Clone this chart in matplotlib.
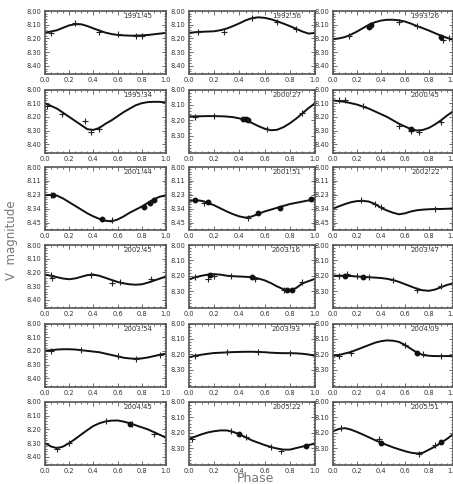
import matplotlib
matplotlib.use("Agg")
import matplotlib.pyplot as plt
from matplotlib.ticker import FixedLocator, MultipleLocator, FixedFormatter
import numpy as np

plt.rcParams["font.family"] = "DejaVu Sans"

# phase grid used for the fitted light curves
phase_grid = [0.00, 0.05, 0.10, 0.15, 0.20, 0.25, 0.30, 0.35, 0.40, 0.45, 0.50,
              0.55, 0.60, 0.65, 0.70, 0.75, 0.80, 0.85, 0.90, 0.95, 1.00]

epochs = ["1991.45", "1992.56", "1993.26",
          "1995.34", "2000.27", "2000.45",
          "2001.44", "2001.51", "2002.22",
          "2002.45", "2003.16", "2003.47",
          "2003.54", "2003.93", "2004.09",
          "2004.45", "2005.22", "2005.51"]

# fitted curves (V mag) on phase_grid
fit_1991_45 = [8.158, 8.150, 8.140, 8.122, 8.105, 8.096, 8.097, 8.110, 8.127, 8.143, 8.158,
               8.168, 8.175, 8.178, 8.180, 8.180, 8.178, 8.175, 8.170, 8.165, 8.160]
fit_1992_56 = [8.160, 8.155, 8.152, 8.150, 8.148, 8.140, 8.128, 8.110, 8.090, 8.068, 8.052,
               8.046, 8.050, 8.060, 8.075, 8.092, 8.110, 8.130, 8.150, 8.165, 8.160]
fit_1993_26 = [8.206, 8.200, 8.190, 8.172, 8.150, 8.125, 8.100, 8.082, 8.070, 8.064, 8.064,
               8.068, 8.077, 8.092, 8.110, 8.126, 8.143, 8.162, 8.180, 8.196, 8.210]
fit_1995_34 = [8.100, 8.120, 8.140, 8.170, 8.200, 8.230, 8.260, 8.290, 8.295, 8.280, 8.250,
               8.225, 8.195, 8.165, 8.140, 8.115, 8.100, 8.092, 8.090, 8.090, 8.095]
fit_2000_27 = [8.175, 8.175, 8.174, 8.173, 8.173, 8.174, 8.176, 8.180, 8.188, 8.200, 8.218,
               8.238, 8.255, 8.265, 8.262, 8.245, 8.220, 8.190, 8.155, 8.120, 8.090]
fit_2000_45 = [8.080, 8.085, 8.090, 8.100, 8.110, 8.125, 8.140, 8.160, 8.180, 8.200, 8.225,
               8.250, 8.270, 8.290, 8.300, 8.295, 8.280, 8.255, 8.225, 8.190, 8.160]
fit_2001_44 = [8.228, 8.226, 8.232, 8.255, 8.285, 8.315, 8.345, 8.375, 8.400, 8.420, 8.435,
               8.440, 8.425, 8.400, 8.370, 8.345, 8.320, 8.290, 8.260, 8.240, 8.230]
fit_2001_51 = [8.274, 8.268, 8.274, 8.290, 8.310, 8.335, 8.360, 8.382, 8.400, 8.410, 8.400,
               8.380, 8.360, 8.345, 8.330, 8.315, 8.300, 8.290, 8.280, 8.270, 8.260]
fit_2002_22 = [8.336, 8.318, 8.300, 8.285, 8.276, 8.274, 8.280, 8.300, 8.330, 8.352, 8.370,
               8.383, 8.375, 8.360, 8.350, 8.345, 8.342, 8.340, 8.340, 8.338, 8.336]
fit_2002_45 = [8.216, 8.225, 8.235, 8.245, 8.250, 8.244, 8.232, 8.220, 8.216, 8.225, 8.240,
               8.255, 8.270, 8.280, 8.287, 8.290, 8.287, 8.275, 8.260, 8.245, 8.230]
fit_2003_16 = [8.224, 8.210, 8.200, 8.193, 8.190, 8.193, 8.200, 8.203, 8.205, 8.207, 8.210,
               8.218, 8.230, 8.248, 8.270, 8.288, 8.295, 8.280, 8.250, 8.235, 8.220]
fit_2003_47 = [8.200, 8.200, 8.200, 8.202, 8.205, 8.207, 8.210, 8.212, 8.215, 8.220, 8.228,
               8.240, 8.255, 8.270, 8.285, 8.295, 8.298, 8.290, 8.275, 8.260, 8.250]
fit_2003_54 = [8.200, 8.195, 8.190, 8.188, 8.188, 8.190, 8.195, 8.200, 8.205, 8.210, 8.220,
               8.230, 8.240, 8.250, 8.255, 8.258, 8.255, 8.248, 8.238, 8.228, 8.220]
fit_2003_93 = [8.220, 8.210, 8.203, 8.197, 8.192, 8.190, 8.188, 8.186, 8.185, 8.184, 8.184,
               8.185, 8.187, 8.190, 8.192, 8.193, 8.193, 8.194, 8.197, 8.202, 8.210]
fit_2004_09 = [8.210, 8.205, 8.195, 8.185, 8.170, 8.155, 8.140, 8.125, 8.115, 8.110, 8.112,
               8.120, 8.140, 8.165, 8.190, 8.205, 8.210, 8.212, 8.212, 8.212, 8.212]
fit_2004_45 = [8.300, 8.325, 8.337, 8.325, 8.300, 8.270, 8.237, 8.205, 8.175, 8.155, 8.142,
               8.136, 8.135, 8.143, 8.155, 8.170, 8.185, 8.200, 8.220, 8.240, 8.260]
fit_2005_22 = [8.240, 8.225, 8.210, 8.198, 8.190, 8.185, 8.185, 8.195, 8.210, 8.230, 8.250,
               8.265, 8.280, 8.293, 8.303, 8.310, 8.310, 8.300, 8.290, 8.280, 8.270]
fit_2005_51 = [8.190, 8.175, 8.170, 8.180, 8.195, 8.212, 8.230, 8.248, 8.265, 8.280, 8.295,
               8.308, 8.320, 8.330, 8.335, 8.330, 8.310, 8.290, 8.265, 8.240, 8.210]

fits = [fit_1991_45, fit_1992_56, fit_1993_26, fit_1995_34, fit_2000_27, fit_2000_45,
        fit_2001_44, fit_2001_51, fit_2002_22, fit_2002_45, fit_2003_16, fit_2003_47,
        fit_2003_54, fit_2003_93, fit_2004_09, fit_2004_45, fit_2005_22, fit_2005_51]

# observations: (phase list, mag list) for crosses and for filled dots
obs_cross = [
    ([0.05, 0.25, 0.45, 0.60, 0.75, 0.80], [8.160, 8.090, 8.150, 8.170, 8.180, 8.180]),
    ([0.07, 0.28, 0.50, 0.70, 0.85], [8.150, 8.150, 8.050, 8.080, 8.130]),
    ([0.13, 0.55, 0.70, 0.92, 0.97], [8.180, 8.080, 8.110, 8.210, 8.200]),
    ([0.02, 0.14, 0.33, 0.38, 0.45], [8.120, 8.180, 8.230, 8.310, 8.290]),
    ([0.05, 0.20, 0.62, 0.90], [8.180, 8.170, 8.260, 8.150]),
    ([0.05, 0.10, 0.25, 0.55, 0.65, 0.72, 0.90], [8.080, 8.080, 8.120, 8.270, 8.300, 8.310, 8.240]),
    ([0.05, 0.55], [8.230, 8.430]),
    ([0.12, 0.47], [8.290, 8.410]),
    ([0.23, 0.35, 0.40, 0.85], [8.270, 8.300, 8.320, 8.340]),
    ([0.05, 0.06, 0.38, 0.55, 0.62, 0.88], [8.220, 8.240, 8.220, 8.280, 8.270, 8.250]),
    ([0.05, 0.15, 0.20, 0.33, 0.52, 0.75, 0.90], [8.210, 8.220, 8.200, 8.200, 8.220, 8.290, 8.240]),
    ([0.05, 0.12, 0.20, 0.30, 0.50, 0.70, 0.90], [8.200, 8.190, 8.200, 8.210, 8.230, 8.290, 8.270]),
    ([0.05, 0.30, 0.60, 0.75, 0.95], [8.200, 8.190, 8.240, 8.260, 8.230]),
    ([0.05, 0.30, 0.55, 0.80], [8.210, 8.185, 8.185, 8.195]),
    ([0.05, 0.15, 0.60, 0.75, 0.90], [8.210, 8.190, 8.140, 8.200, 8.210]),
    ([0.10, 0.20, 0.50, 0.72, 0.90], [8.340, 8.300, 8.140, 8.160, 8.230]),
    ([0.02, 0.33, 0.45, 0.65, 0.73], [8.240, 8.190, 8.230, 8.290, 8.320]),
    ([0.07, 0.38, 0.72, 0.85], [8.170, 8.240, 8.340, 8.280]),
]
obs_dot = [
    ([], []),
    ([], []),
    ([0.30, 0.32, 0.90], [8.120, 8.100, 8.190]),
    ([], []),
    ([0.43, 0.45, 0.47], [8.190, 8.195, 8.200]),
    ([0.65], [8.290]),
    ([0.07, 0.47, 0.82, 0.87, 0.90], [8.230, 8.420, 8.320, 8.290, 8.270]),
    ([0.05, 0.15, 0.55, 0.72, 0.97], [8.270, 8.280, 8.370, 8.330, 8.255]),
    ([], []),
    ([], []),
    ([0.17, 0.50, 0.78, 0.82], [8.195, 8.210, 8.290, 8.295]),
    ([0.10, 0.25], [8.200, 8.205]),
    ([], []),
    ([], []),
    ([0.70], [8.190]),
    ([0.70], [8.160]),
    ([0.40, 0.93], [8.210, 8.285]),
    ([0.40, 0.90], [8.265, 8.260]),
]

# y-axis layout of each panel: tick values, tick labels, bottom limit
ticks5 = ([8.00, 8.10, 8.20, 8.30, 8.40], ["8.00", "8.10", "8.20", "8.30", "8.40"], 8.46)
ticks4 = ([8.00, 8.10, 8.20, 8.30], ["8.00", "8.10", "8.20", "8.30"], 8.41)
ticks_wide = ([8.00, 8.1125, 8.225, 8.3375, 8.45], ["8.00", "8.11", "8.23", "8.34", "8.45"], 8.51)
yaxes = [ticks5, ticks5, ticks5,
         ticks5, ticks4, ticks5,
         ticks_wide, ticks_wide, ticks_wide,
         ticks5, ticks4, ticks4,
         ticks5, ticks4, ticks4,
         ticks5, ticks4, ticks4]

W, H = 453, 484
fig = plt.figure(figsize=(W / 100, H / 100), dpi=100)

col_left = [45, 189, 333]
col_width = [121, 126, 120]
row_top = [11, 89.5, 167, 245, 323.5, 402]
panel_h = 63

frame_col = "#555555"

for i, ep in enumerate(epochs):
    r, c = divmod(i, 3)
    ax = fig.add_axes([col_left[c] / W, 1 - (row_top[r] + panel_h) / H,
                       col_width[c] / W, panel_h / H])
    yt, ytl, ybot = yaxes[i]
    ax.plot(phase_grid, fits[i], color="#111111", lw=1.4, zorder=2)
    px, py = obs_cross[i]
    ax.plot(px, py, ls="none", marker="+", ms=4.5, mew=0.8, color="#222222", zorder=3)
    dx, dy = obs_dot[i]
    if dx:
        ax.plot(dx, dy, ls="none", marker="o", ms=3.2, color="#111111", zorder=3)

    ax.set_xlim(0, 1)
    ax.set_ylim(ybot, 8.00)
    ax.xaxis.set_major_locator(FixedLocator([0, 0.2, 0.4, 0.6, 0.8, 1.0]))
    ax.xaxis.set_major_formatter(FixedFormatter(["0.0", "0.2", "0.4", "0.6", "0.8", "1.0"]))
    ax.xaxis.set_minor_locator(MultipleLocator(0.05))
    ax.yaxis.set_major_locator(FixedLocator(yt))
    ax.yaxis.set_major_formatter(FixedFormatter(ytl))
    ax.yaxis.set_minor_locator(MultipleLocator(0.02))
    ax.tick_params(which="both", direction="in", top=True, right=True,
                   color=frame_col, width=0.6)
    ax.tick_params(which="major", length=3, labelsize=4.8, labelcolor="#333333", pad=2.5)
    ax.tick_params(which="minor", length=1.5)
    for sp in ax.spines.values():
        sp.set_color(frame_col)
        sp.set_linewidth(1.2)
    ax.text(0.89, 0.92, ep, transform=ax.transAxes, ha="right", va="center",
            fontsize=5, color="#333333")

fig.text(255 / W, 1 - 479 / H, "Phase", ha="center", va="center",
         fontsize=9, color="#777777")
fig.text(12 / W, 1 - 240 / H, "V  magnitude", ha="center", va="center",
         rotation=90, fontsize=8.5, color="#777777")

fig.savefig("out.png", dpi=100)
